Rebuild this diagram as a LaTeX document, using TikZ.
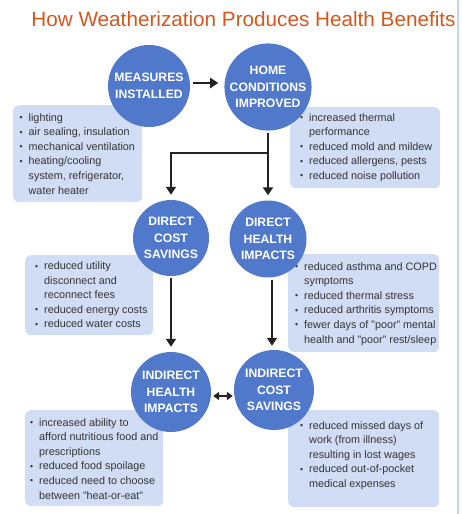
\documentclass[tikz,border=0pt]{standalone}
\usepackage{fontspec}
\setmainfont{Liberation Sans}
\usetikzlibrary{arrows.meta,calc}
\definecolor{circ}{HTML}{5079CB}
\definecolor{boxc}{HTML}{D0DDF5}
\definecolor{txt}{HTML}{333333}
\definecolor{ttl}{HTML}{D4581E}
\definecolor{edgec}{HTML}{C8D5EE}
\definecolor{arrc}{HTML}{222222}
\newcommand{\bu}{\makebox[0pt][r]{\raisebox{0.5pt}{\scalebox{0.8}{\textbullet}}\hspace{6pt}}}
\tikzset{
  bubble/.style={circle, fill=circ, text=white, inner sep=0pt, align=center,
    font=\fontsize{12.2}{16.5}\selectfont\bfseries},
  infobox/.style={rectangle, rounded corners=6pt, fill=boxc, inner sep=0pt},
  infotext/.style={anchor=base west, inner sep=0pt, text=txt,
    font=\fontsize{10.8}{14.6}\selectfont},
  arr/.style={draw=arrc, line width=2.6pt, -{Triangle[length=8pt,width=10pt]}},
  plainline/.style={draw=arrc, line width=2.6pt},
  dblarr/.style={draw=arrc, line width=2.2pt, {Triangle[length=6pt,width=8pt]}-{Triangle[length=6pt,width=8pt]}},
}
\begin{document}
\begin{tikzpicture}[x=1pt,y=-1pt]
\useasboundingbox (0,0) rectangle (461,514);
\draw[edgec, line width=1.5pt] (458,0) -- (458,514);
\node[anchor=base, text=ttl, font=\fontsize{20.7}{24}\selectfont, inner sep=0pt] (title) at (243.5,27) {How Weatherization Produces Health Benefits};

% boxes
\node[infobox, minimum width=129pt, minimum height=97pt, anchor=north west] (b1) at (13,105) {};
\node[infobox, minimum width=150pt, minimum height=81pt, anchor=north west] (b2) at (290,107) {};
\node[infobox, minimum width=128pt, minimum height=80pt, anchor=north west] (b3) at (25,255) {};
\node[infobox, minimum width=151pt, minimum height=98pt, anchor=north west] (b4) at (288,254) {};
\node[infobox, minimum width=138pt, minimum height=96pt, anchor=north west] (b5) at (25,410) {};
\node[infobox, minimum width=151pt, minimum height=97pt, anchor=north west] (b6) at (288,410) {};

\node[infotext] (t1) at (28.5,121) {\begin{tabular}[t]{@{}l@{}}
\bu lighting\\
\bu air sealing, insulation\\
\bu mechanical ventilation\\
\bu heating/cooling\\
system, refrigerator,\\
water heater\end{tabular}};
\node[infotext] (t2) at (309,121) {\begin{tabular}[t]{@{}l@{}}
\bu increased thermal\\
performance\\
\bu reduced mold and mildew\\
\bu reduced allergens, pests\\
\bu reduced noise pollution\end{tabular}};
\node[infotext] (t3) at (44,269.5) {\begin{tabular}[t]{@{}l@{}}
\bu reduced utility\\
disconnect and\\
reconnect fees\\
\bu reduced energy costs\\
\bu reduced water costs\end{tabular}};
\node[infotext] (t4) at (304,270) {\begin{tabular}[t]{@{}l@{}}
\bu reduced asthma and COPD\\
symptoms\\
\bu reduced thermal stress\\
\bu reduced arthritis symptoms\\
\bu fewer days of "poor" mental\\
health and "poor" rest/sleep\end{tabular}};
\node[infotext] (t5) at (39,426) {\begin{tabular}[t]{@{}l@{}}
\bu increased ability to\\
afford nutritious food and\\
prescriptions\\
\bu reduced food spoilage\\
\bu reduced need to choose\\
between "heat-or-eat"\end{tabular}};
\node[infotext] (t6) at (309,429) {\begin{tabular}[t]{@{}l@{}}
\bu reduced missed days of\\
work (from illness)\\
resulting in lost wages\\
\bu reduced out-of-pocket\\
medical expenses\end{tabular}};

% circles
\node[bubble, minimum size=82pt] (m) at (149,86) {MEASURES\\INSTALLED};
\node[bubble, minimum size=80pt] (h) at (268,87) {HOME\\CONDITIONS\\IMPROVED};
\node[bubble, minimum size=76pt] (dcs) at (171,238) {DIRECT\\COST\\SAVINGS};
\node[bubble, minimum size=77pt] (dhi) at (268,239) {DIRECT\\HEALTH\\IMPACTS};
\node[bubble, minimum size=80pt] (ihi) at (171,392) {INDIRECT\\HEALTH\\IMPACTS};
\node[bubble, minimum size=80pt] (ics) at (274,390) {INDIRECT\\COST\\SAVINGS};

% connectors
\draw[arr, shorten <=3pt, shorten >=6pt] (m.east |- 0,83) -- (h.west |- 0,83);
\coordinate (j) at (268,153);
\draw[arr, shorten <=2pt, shorten >=5pt] (h.south) -- (dhi.north);
\draw[arr, shorten >=5pt] (j) -| (dcs.north);
\draw[arr, shorten <=2pt, shorten >=5pt] (dcs.south) -- (ihi.north);
\draw[arr, shorten <=2pt, shorten >=4pt] (dhi.south -| 272,0) -- (ics.north -| 272,0);
\draw[dblarr, shorten <=2pt, shorten >=1pt] (ihi.east |- 0,396) -- (ics.west |- 0,396);
\end{tikzpicture}
\end{document}
